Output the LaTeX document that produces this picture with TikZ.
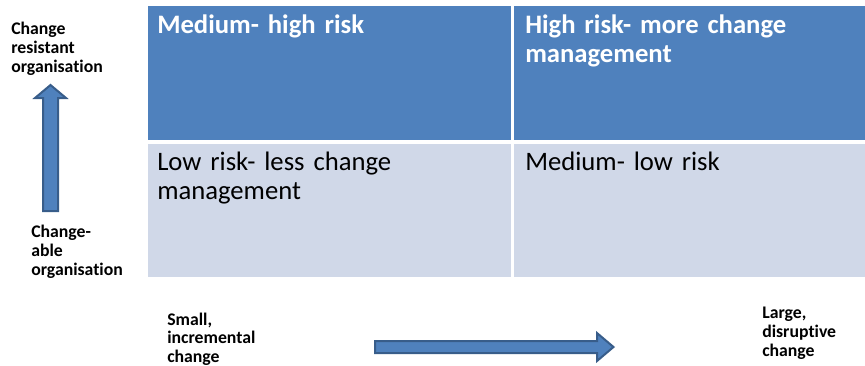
\documentclass[tikz,border=0pt]{standalone}
\usepackage{fontspec}
\setmainfont{Carlito}[Ligatures=NoCommon]
\usetikzlibrary{positioning}
\definecolor{darkcell}{HTML}{4F81BD}
\definecolor{lightcell}{HTML}{D0D8E8}
\definecolor{arrowedge}{HTML}{385D8A}
\tikzstyle{cell}=[rectangle, anchor=north west, inner sep=0pt, outer sep=0pt]
\tikzstyle{bigtext}=[anchor=base west, inner sep=0pt, text width=300pt, align=left, font=\fontsize{20}{21.75}\selectfont]
\tikzstyle{axistext}=[anchor=base west, inner sep=0pt, text width=80pt, align=left, font=\fontsize{13.3}{14.25}\selectfont\bfseries]
\tikzstyle{fatarrow}=[fill=darkcell, draw=arrowedge, line width=1.5pt, line join=miter]

\begin{document}
\begin{tikzpicture}[x=0.75pt, y=-0.75pt]
        \useasboundingbox (0,0) rectangle (865,365);
        % the four quadrants
        \node[cell, fill=darkcell, minimum width=272.25pt, minimum height=100.5pt] at (148,6) (medhigh) {};
        \node[cell, fill=darkcell, minimum width=263.25pt, minimum height=100.5pt] at (514,6) (high) {};
        \node[cell, fill=lightcell, minimum width=272.25pt, minimum height=99.75pt] at (148,144) (low) {};
        \node[cell, fill=lightcell, minimum width=263.25pt, minimum height=99.75pt] at (514,144) (medlow) {};
        \node[bigtext, text=white, font=\fontsize{20}{21.75}\selectfont\bfseries] at (157,33) (medhightext) {Medium- high risk};
        \node[bigtext, text=white, font=\fontsize{20}{21.75}\selectfont\bfseries] at (525,33) (hightext) {High risk- more change\\management};
        \node[bigtext] at (157,170) (lowtext) {Low risk- less change\\management};
        \node[bigtext] at (525,170) (medlowtext) {Medium- low risk};
        % axis labels
        \node[axistext] at (11,34) (resistant) {Change\\resistant\\organisation};
        \node[axistext] at (31,237) (changeable) {Change-\\able\\organisation};
        \node[axistext, font=\fontsize{13.3}{13.9}\selectfont\bfseries] at (167,325) (small) {Small,\\incremental\\change};
        \node[axistext, font=\fontsize{13.3}{14.4}\selectfont\bfseries] at (762,318) (large) {Large,\\disruptive\\change};
        % axis arrows
        \draw[fatarrow] (43,211) -- (43,98) -- (35,98) -- (50.5,85) -- (66,98) -- (58,98) -- (58,211) -- cycle;
        \draw[fatarrow] (375,341) -- (597,341) -- (597,333) -- (613.5,347) -- (597,361) -- (597,353) -- (375,353) -- cycle;
      \end{tikzpicture}
\end{document}
